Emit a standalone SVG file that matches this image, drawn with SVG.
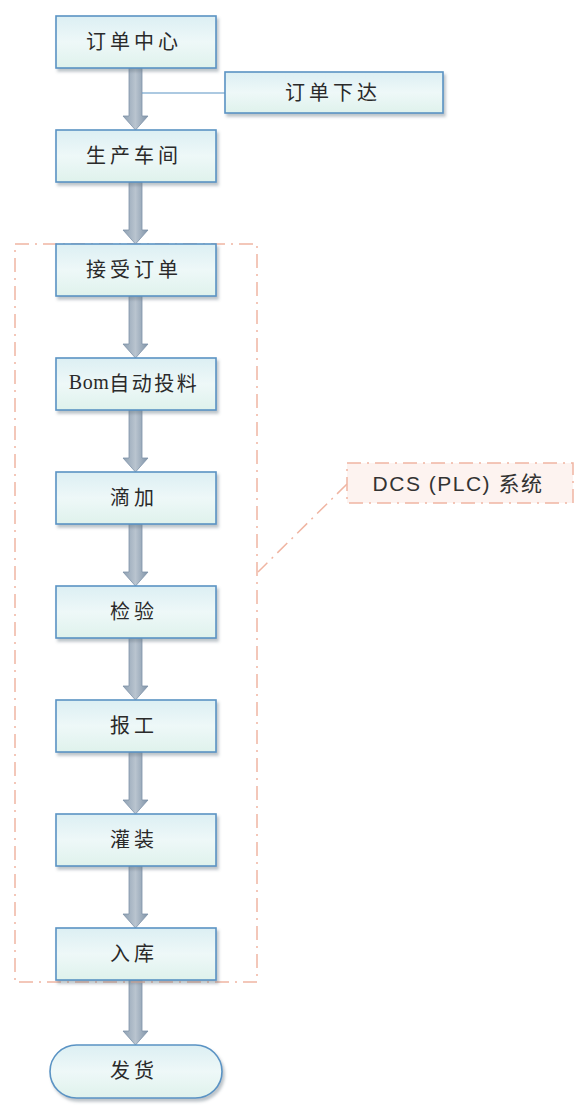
<svg xmlns="http://www.w3.org/2000/svg" width="578" height="1106" viewBox="0 0 578 1106">
<defs>
<linearGradient id="nodeFill" x1="0" y1="0" x2="0" y2="1">
<stop offset="0" stop-color="#dceff3"/>
<stop offset="0.5" stop-color="#eef8f8"/>
<stop offset="1" stop-color="#dff2ec"/>
</linearGradient>
<linearGradient id="arrowFill" x1="0" y1="0" x2="1" y2="0">
<stop offset="0" stop-color="#8ea0b2"/>
<stop offset="0.5" stop-color="#b9c4cf"/>
<stop offset="1" stop-color="#7f93a8"/>
</linearGradient>
<filter id="sh" x="-10%" y="-10%" width="130%" height="140%">
<feDropShadow dx="2" dy="3" stdDeviation="1.5" flood-color="#6a7a88" flood-opacity="0.45"/>
</filter>
</defs>
<style>
.node{fill:url(#nodeFill);stroke:#5a93c4;stroke-width:1.6;filter:url(#sh)}
.lbl{font-family:"Noto Sans CJK SC","Liberation Sans",sans-serif;font-size:20px;letter-spacing:4px;fill:#2a2a2a;text-anchor:middle;dominant-baseline:central}
.arrow{fill:url(#arrowFill);stroke:#7d92a8;stroke-width:0.8}
.dash{fill:none;stroke:#f0b5a2;stroke-width:1.5;stroke-dasharray:14 6 2 6}
</style>
<rect width="578" height="1106" fill="#ffffff"/>

<g id="connectors">
<path class="arrow" d="M129,68 H142 V116 H148 L135.5,130 L123,116 H129 Z"/>
<line x1="142" y1="93" x2="225" y2="93" stroke="#5a93c4" stroke-width="1.2"/>
<path class="arrow" d="M129,182 H142 V230 H148 L135.5,244 L123,230 H129 Z"/>
<path class="arrow" d="M129,296 H142 V344 H148 L135.5,358 L123,344 H129 Z"/>
<path class="arrow" d="M129,410 H142 V458 H148 L135.5,472 L123,458 H129 Z"/>
<path class="arrow" d="M129,524 H142 V572 H148 L135.5,586 L123,572 H129 Z"/>
<path class="arrow" d="M129,638 H142 V686 H148 L135.5,700 L123,686 H129 Z"/>
<path class="arrow" d="M129,752 H142 V800 H148 L135.5,814 L123,800 H129 Z"/>
<path class="arrow" d="M129,866 H142 V914 H148 L135.5,928 L123,914 H129 Z"/>
<path class="arrow" d="M129,980 H142 V1031 H148 L135.5,1045 L123,1031 H129 Z"/>
<line class="dash" x1="347" y1="484" x2="258" y2="572"/>
</g>

<g id="dcs-group">
<rect class="dash" x="15" y="244" width="242" height="738"/>
</g>

<g id="n1"><rect class="node" x="56" y="16" width="160" height="52"/><text class="lbl" x="134" y="40">订单中心</text></g>
<g id="n-order"><rect class="node" x="225" y="72" width="218" height="41"/><text class="lbl" x="333" y="91.5">订单下达</text></g>
<g id="n2"><rect class="node" x="56" y="130" width="160" height="52"/><text class="lbl" x="134" y="154">生产车间</text></g>
<g id="n3"><rect class="node" x="56" y="244" width="160" height="52"/><text class="lbl" x="134" y="268">接受订单</text></g>
<g id="n4"><rect class="node" x="56" y="358" width="160" height="52"/><text class="lbl" x="134" y="382" style="letter-spacing:2.5px"><tspan style="font-family:'Liberation Serif',serif;letter-spacing:0.5px">Bom</tspan>自动投料</text></g>
<g id="n5"><rect class="node" x="56" y="472" width="160" height="52"/><text class="lbl" x="134" y="496">滴加</text></g>
<g id="n6"><rect class="node" x="56" y="586" width="160" height="52"/><text class="lbl" x="134" y="610">检验</text></g>
<g id="n7"><rect class="node" x="56" y="700" width="160" height="52"/><text class="lbl" x="134" y="724">报工</text></g>
<g id="n8"><rect class="node" x="56" y="814" width="160" height="52"/><text class="lbl" x="134" y="838">灌装</text></g>
<g id="n9"><rect class="node" x="56" y="928" width="160" height="52"/><text class="lbl" x="134" y="952">入库</text></g>
<g id="n10"><rect class="node" x="50" y="1045" width="172" height="53" rx="26.5" ry="26.5"/><text class="lbl" x="134" y="1069.5">发货</text></g>

<g id="dcs-label">
<rect x="347" y="463" width="226" height="40" class="dash" style="fill:#fdf3f0"/>
<text class="lbl" x="458" y="483" style="fill:#333;font-family:'Liberation Sans','Noto Sans CJK SC',sans-serif;font-size:21px;letter-spacing:1.5px">DCS (PLC) 系统</text>
</g>
</svg>
